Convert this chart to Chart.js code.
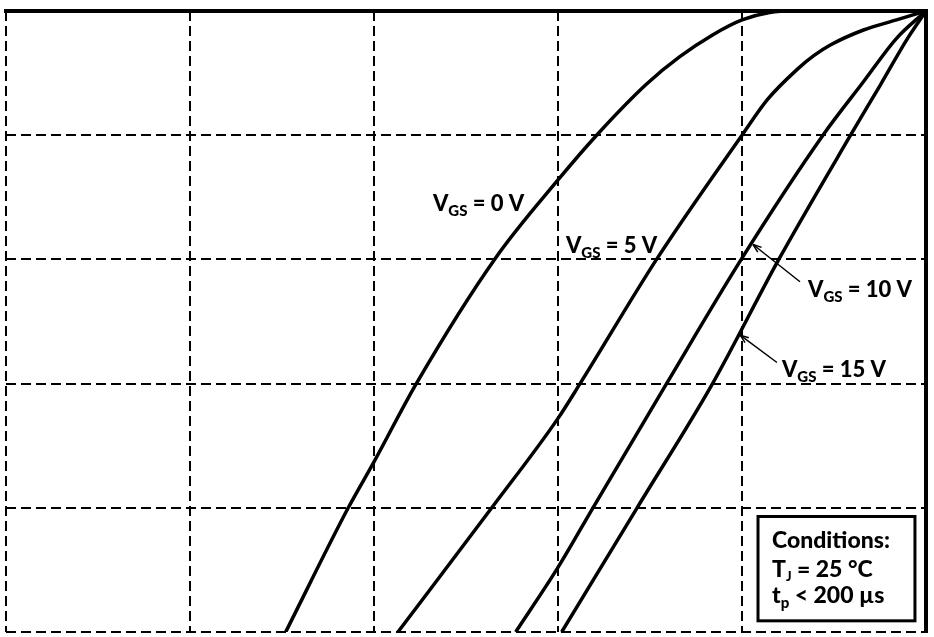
<!DOCTYPE html>
<html>
<head>
<meta charset="utf-8">
<script src="https://cdn.jsdelivr.net/npm/chart.js@4"></script>
<style>
  body { margin: 0; background: #fff; }
  canvas { display: block; }
</style>
</head>
<body>
<canvas id="curveChart" width="934" height="637"></canvas>
<script>
// V_DS (x) and I_DS (y), third quadrant
var vgsLabels = ['0 V', '5 V', '10 V', '15 V'];

var vgs0X = [-3.48, -3.14, -3.0, -2.77, -2.34, -2.0, -1.79, -1.52, -1.34, -1.16, -1.0, -0.85, -0.71, 0];
var vgs0Y = [-50, -40, -36.3, -30, -19.9, -13.6, -10, -5.9, -3.7, -1.93, -0.72, -0.12, 0, 0];

var vgs5X = [-2.87, -2.36, -2.0, -1.88, -1.46, -1.0, -0.86, -0.70, -0.61, -0.52, -0.34, -0.16, 0];
var vgs5Y = [-50, -40, -32.8, -30, -19.9, -10, -7.1, -4.7, -3.6, -2.74, -1.53, -0.72, 0];

var vgs10X = [-2.23, -2.0, -1.81, -1.41, -1.0, -0.56, -0.34, -0.16, 0];
var vgs10Y = [-50, -44.8, -40, -30, -19.9, -10, -5.7, -2.2, 0];

var vgs15X = [-1.98, -1.57, -1.16, -0.80, -0.41, -0.25, -0.10, 0];
var vgs15Y = [-50, -40, -30, -20, -10, -6.0, -2.2, 0];

var xTicks = [-5, -4, -3, -2, -1, 0];
var yTicks = [-50, -40, -30, -20, -10, 0];

function toPoints(xs, ys) {
    return xs.map(function(x, i) { return { x: x, y: ys[i] }; });
}

function curve(xs, ys) {
    return {
        data: toPoints(xs, ys),
        borderColor: '#000',
        borderWidth: 3.5,
        pointRadius: 0,
        cubicInterpolationMode: 'monotone',
        fill: false
    };
}

// draws "VGS = n V" with a subscript
function drawVgs(ctx, x, y, value) {
    ctx.font = '900 22px Lato';
    ctx.fillText('V', x, y);
    var w = ctx.measureText('V').width;
    ctx.font = '900 15px Lato';
    ctx.fillText('GS', x + w, y + 5);
    w += ctx.measureText('GS').width;
    ctx.font = '900 22px Lato';
    ctx.fillText(' = ' + value, x + w, y);
}

function arrow(ctx, x1, y1, x2, y2) {
    ctx.lineWidth = 1.5;
    ctx.beginPath();
    ctx.moveTo(x1, y1);
    ctx.lineTo(x2, y2);
    ctx.stroke();
    var a = Math.atan2(y2 - y1, x2 - x1);
    ctx.beginPath();
    ctx.moveTo(x2, y2);
    ctx.lineTo(x2 - 9 * Math.cos(a - 0.35), y2 - 9 * Math.sin(a - 0.35));
    ctx.moveTo(x2, y2);
    ctx.lineTo(x2 - 9 * Math.cos(a + 0.35), y2 - 9 * Math.sin(a + 0.35));
    ctx.stroke();
}

var notes = {
    id: 'notes',
    afterDatasetsDraw: function(chart) {
        var ctx = chart.ctx;
        var sx = chart.scales.x, sy = chart.scales.y;
        var px = function(v) { return sx.getPixelForValue(v); };
        var py = function(v) { return sy.getPixelForValue(v); };
        ctx.save();
        ctx.fillStyle = '#000';
        ctx.strokeStyle = '#000';
        ctx.textBaseline = 'alphabetic';

        drawVgs(ctx, px(-2.68), py(-16.1), vgsLabels[0]);
        drawVgs(ctx, px(-1.957), py(-19.5), vgsLabels[1]);
        drawVgs(ctx, px(-0.641), py(-23.0), vgsLabels[2]);
        drawVgs(ctx, px(-0.783), py(-29.5), vgsLabels[3]);

        arrow(ctx, px(-0.685), py(-21.8), px(-0.94), py(-18.8));
        arrow(ctx, px(-0.81), py(-28.3), px(-1.01), py(-26.1));

        // conditions box
        var bx = px(-0.913), by = py(-40.7);
        ctx.fillStyle = '#fff';
        ctx.fillRect(bx, by, px(-0.06) - bx, py(-49.1) - by);
        ctx.lineWidth = 3;
        ctx.strokeRect(bx, by, px(-0.06) - bx, py(-49.1) - by);
        ctx.fillStyle = '#000';
        var tx = px(-0.837);
        ctx.font = '900 23px Lato';
        ctx.fillText('Conditions:', tx, py(-43.2));
        ctx.fillText('T', tx, py(-45.6));
        var w = ctx.measureText('T').width;
        ctx.font = '900 13px Lato';
        ctx.fillText('J', tx + w, py(-45.6) + 4);
        w += ctx.measureText('J').width;
        ctx.font = '900 23px Lato';
        ctx.fillText(' = 25 °C', tx + w, py(-45.6));
        ctx.fillText('t', tx, py(-47.7));
        w = ctx.measureText('t').width;
        ctx.font = '900 15px Lato';
        ctx.fillText('p', tx + w, py(-47.7) + 5);
        w += ctx.measureText('p').width;
        ctx.font = '900 23px Lato';
        ctx.fillText(' < 200 µs', tx + w, py(-47.7));
        ctx.restore();
    }
};

document.addEventListener('DOMContentLoaded', function() {
    var ctx = document.getElementById('curveChart').getContext('2d');

    var gridOpts = { color: '#000', lineWidth: 2, drawTicks: false };
    var dashed = { display: false, dash: [10, 5] };

    new Chart(ctx, {
        type: 'line',
        data: {
            datasets: [
                curve(vgs0X, vgs0Y),
                curve(vgs5X, vgs5Y),
                curve(vgs10X, vgs10Y),
                curve(vgs15X, vgs15Y)
            ]
        },
        options: {
            responsive: false,
            animation: false,
            layout: { padding: { left: 6, top: 11, right: 8, bottom: 5 } },
            plugins: { legend: { display: false }, tooltip: { enabled: false } },
            scales: {
                x: {
                    type: 'linear', min: xTicks[0], max: xTicks[xTicks.length - 1],
                    afterBuildTicks: function(s) { s.ticks = xTicks.map(function(v) { return { value: v }; }); },
                    ticks: { display: false },
                    grid: gridOpts, border: dashed
                },
                y: {
                    type: 'linear', min: yTicks[0], max: yTicks[yTicks.length - 1],
                    afterBuildTicks: function(s) { s.ticks = yTicks.map(function(v) { return { value: v }; }); },
                    ticks: { display: false },
                    grid: gridOpts, border: dashed
                },
                xTop: {
                    type: 'linear', position: 'top', min: xTicks[0], max: 0,
                    ticks: { display: false },
                    grid: { display: false, drawTicks: false },
                    border: { display: true, color: '#000', width: 4 }
                },
                yRight: {
                    type: 'linear', position: 'right', min: yTicks[0], max: 0,
                    ticks: { display: false },
                    grid: { display: false, drawTicks: false },
                    border: { display: true, color: '#000', width: 4 }
                }
            }
        },
        plugins: [notes]
    });
});
</script>
</body>
</html>
